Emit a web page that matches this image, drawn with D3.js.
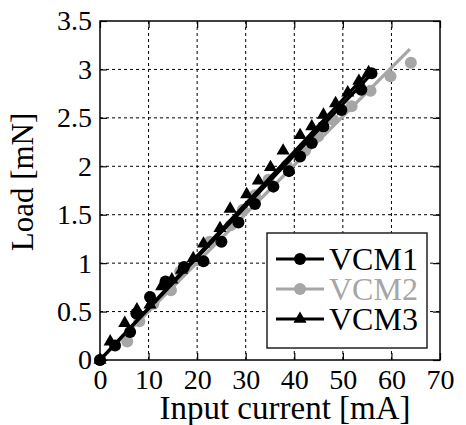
<!DOCTYPE html>
<html><head><meta charset="utf-8">
<script src="https://cdn.jsdelivr.net/npm/d3@7"></script>
<style>html,body{margin:0;padding:0;background:#fff;}svg{display:block;}
svg text{font-family:"Liberation Serif","Times New Roman","DejaVu Serif",serif;}</style>
</head><body><svg id="chart" width="466" height="425"></svg>
<script>
// ---- data ----
const xTicks = [0,10,20,30,40,50,60,70];
const yTicks = [0,0.5,1,1.5,2,2.5,3,3.5];
const yTickLabels = ["0","0.5","1","1.5","2","2.5","3","3.5"];
const seriesNames = ["VCM1","VCM2","VCM3"];
const seriesColors = ["#000000","#a6a6a6","#000000"];
const seriesMarkers = ["circle","circle","triangle"];

const vcm1X = [0,3.1,6.2,7.5,10.3,13.5,17.3,21.3,25.0,28.5,31.9,35.7,38.9,41.2,43.6,46.0,49.7,53.8,55.9];
const vcm1Y = [0,0.15,0.29,0.48,0.65,0.81,0.96,1.02,1.22,1.42,1.61,1.79,1.95,2.10,2.24,2.41,2.58,2.79,2.96];
const vcm2X = [0,5.6,8.1,11.0,14.6,16.5,20.2,22.6,26.9,29.4,31.9,34.7,38.4,42.2,44.9,48.0,51.8,55.7,59.8,64.0];
const vcm2Y = [0,0.19,0.40,0.58,0.72,0.91,1.03,1.22,1.39,1.55,1.70,1.86,2.01,2.16,2.31,2.48,2.62,2.78,2.93,3.07];
const vcm3X = [0,2.1,5.1,7.6,10.3,12.7,14.8,16.8,19.2,21.3,24.7,26.8,30.2,32.6,35.1,37.7,41.2,43.6,46.0,48.5,51.0,53.3,55.3];
const vcm3Y = [0,0.19,0.38,0.52,0.57,0.76,0.83,0.93,1.05,1.20,1.36,1.56,1.71,1.85,1.99,2.16,2.32,2.41,2.53,2.65,2.76,2.88,2.97];
// fitted lines (start / end)
const fit1X = [0,56.0], fit1Y = [0,2.96];
const fit2X = [0,63.8], fit2Y = [0,3.21];
const fit3X = [0,55.6], fit3Y = [0,2.99];

// ---- layout ----
const svg = d3.select("#chart");
const L = 100, R = 440, T = 21, B = 360;
const x = d3.scaleLinear().domain([0,70]).range([L,R]);
const y = d3.scaleLinear().domain([0,3.5]).range([B,T]);

// grid
const grid = svg.append("g");
grid.selectAll("line.gx").data(xTicks.slice(1,-1)).join("line")
  .attr("x1",d=>x(d)).attr("x2",d=>x(d)).attr("y1",T).attr("y2",B)
  .attr("stroke","#000").attr("stroke-width",1).attr("stroke-dasharray","3,3");
grid.selectAll("line.gy").data(yTicks.slice(1,-1)).join("line")
  .attr("y1",d=>y(d)).attr("y2",d=>y(d)).attr("x1",L).attr("x2",R)
  .attr("stroke","#000").attr("stroke-width",1).attr("stroke-dasharray","3,3");

// axes
const ax = svg.append("g").attr("transform",`translate(0,${B})`)
  .call(d3.axisBottom(x).tickValues(xTicks).tickSize(-7).tickPadding(9).tickFormat(d3.format("d")));
const ay = svg.append("g").attr("transform",`translate(${L},0)`)
  .call(d3.axisLeft(y).tickValues(yTicks).tickSize(-7).tickPadding(8).tickFormat((d,i)=>yTickLabels[i]));
const axT = svg.append("g").attr("transform",`translate(0,${T})`)
  .call(d3.axisTop(x).tickValues(xTicks).tickSize(-7).tickFormat(""));
const ayR = svg.append("g").attr("transform",`translate(${R},0)`)
  .call(d3.axisRight(y).tickValues(yTicks).tickSize(-7).tickFormat(""));
[ax,ay,axT,ayR].forEach(g=>{
  g.attr("font-family",null).attr("font-size",null);
  g.select(".domain").remove();
  g.selectAll("line").attr("stroke","#000").attr("stroke-width",1.2);
  g.selectAll("text").style("font-size","28px").attr("fill","#000");
});
ax.selectAll("text").attr("dy","0.71em");

// series
const series = [
  {x:vcm1X,y:vcm1Y,fx:fit1X,fy:fit1Y},
  {x:vcm2X,y:vcm2Y,fx:fit2X,fy:fit2Y},
  {x:vcm3X,y:vcm3Y,fx:fit3X,fy:fit3Y}
];
const line = d3.line();
const tri = d3.symbol().type(d3.symbolTriangle).size(75);
const drawOrder = [1,0,2];
drawOrder.forEach(i=>{
  const s = series[i];
  const g = svg.append("g");
  g.append("path").attr("d",line(s.fx.map((v,k)=>[x(v),y(s.fy[k])])))
    .attr("stroke",seriesColors[i]).attr("stroke-width",3.2).attr("fill","none");
  const pts = s.x.map((v,k)=>[x(v),y(s.y[k])]);
  if(seriesMarkers[i]==="circle"){
    g.selectAll("circle").data(pts).join("circle")
      .attr("cx",d=>d[0]).attr("cy",d=>d[1]).attr("r",6).attr("fill",seriesColors[i]);
  } else {
    g.selectAll("path.m").data(pts).join("path").attr("class","m")
      .attr("d",tri).attr("transform",d=>`translate(${d[0]},${d[1]})`).attr("fill",seriesColors[i]);
  }
});

// frame
svg.append("rect").attr("x",L).attr("y",T).attr("width",R-L).attr("height",B-T)
  .attr("fill","none").attr("stroke","#000").attr("stroke-width",1.5);

// legend
const lg = svg.append("g");
lg.append("rect").attr("x",267).attr("y",233).attr("width",160).attr("height",115)
  .attr("fill","#fff").attr("stroke","#222").attr("stroke-width",1.5);
const rowY = [259,289,319];
seriesNames.forEach((n,i)=>{
  lg.append("line").attr("x1",276).attr("x2",324).attr("y1",rowY[i]).attr("y2",rowY[i])
    .attr("stroke",seriesColors[i]).attr("stroke-width",3.2);
  if(seriesMarkers[i]==="circle")
    lg.append("circle").attr("cx",300).attr("cy",rowY[i]).attr("r",6).attr("fill",seriesColors[i]);
  else
    lg.append("path").attr("d",tri).attr("transform",`translate(300,${rowY[i]})`).attr("fill",seriesColors[i]);
  lg.append("text").attr("x",329).attr("y",rowY[i]+11).text(n)
    .style("font-size","32px").attr("fill",seriesColors[i]);
});

// axis titles
svg.append("text").attr("x",285).attr("y",419).attr("text-anchor","middle")
  .style("font-size","33px").text("Input current [mA]");
svg.append("text").attr("transform","translate(33,182) rotate(-90)").attr("text-anchor","middle")
  .style("font-size","31px").text("Load [mN]");
</script></body></html>
